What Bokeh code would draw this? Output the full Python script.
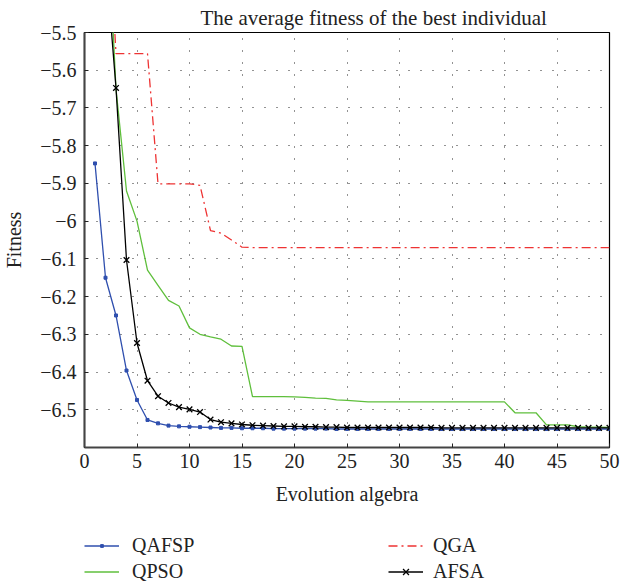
from bokeh.plotting import figure
from bokeh.models import Legend, LegendItem, FixedTicker, Range1d
from bokeh.layouts import column
from bokeh.embed import file_html
from bokeh.resources import INLINE

# ---------------- data ----------------
gen = list(range(1, 51))

qafsp = [-5.847, -6.150, -6.250, -6.396, -6.474, -6.527, -6.536, -6.542, -6.544, -6.545,
         -6.546, -6.547, -6.548, -6.548, -6.549, -6.549, -6.549, -6.550, -6.550, -6.550,
         -6.550, -6.550, -6.550, -6.551, -6.551, -6.551, -6.551, -6.551, -6.551, -6.551,
         -6.551, -6.551, -6.551, -6.551, -6.551, -6.551, -6.551, -6.551, -6.551, -6.551,
         -6.551, -6.551, -6.551, -6.551, -6.551, -6.551, -6.551, -6.551, -6.551, -6.551]

qpso = [-4.80, -5.09, -5.65, -5.92, -6.00, -6.13, -6.17, -6.21, -6.225, -6.283,
        -6.300, -6.307, -6.313, -6.331, -6.332, -6.465, -6.465, -6.465, -6.465, -6.466,
        -6.467, -6.469, -6.470, -6.474, -6.475, -6.477, -6.479, -6.479, -6.479, -6.479,
        -6.479, -6.479, -6.479, -6.479, -6.479, -6.479, -6.479, -6.479, -6.479, -6.479,
        -6.508, -6.508, -6.508, -6.540, -6.540, -6.540, -6.545, -6.546, -6.546, -6.547]

qga = [-4.70, -5.05, -5.556, -5.556, -5.556, -5.556, -5.901, -5.901, -5.901, -5.901,
       -5.905, -6.025, -6.032, -6.050, -6.069, -6.070, -6.070, -6.070, -6.070, -6.070,
       -6.070, -6.070, -6.070, -6.070, -6.070, -6.070, -6.070, -6.070, -6.070, -6.070,
       -6.070, -6.070, -6.070, -6.070, -6.070, -6.070, -6.070, -6.070, -6.070, -6.070,
       -6.070, -6.070, -6.070, -6.070, -6.070, -6.070, -6.070, -6.070, -6.070, -6.070]

afsa = [-4.90, -5.30, -5.647, -6.103, -6.323, -6.423, -6.464, -6.482, -6.493, -6.499,
        -6.506, -6.526, -6.533, -6.536, -6.539, -6.541, -6.542, -6.543, -6.544, -6.544,
        -6.545, -6.545, -6.546, -6.546, -6.547, -6.547, -6.547, -6.547, -6.547, -6.547,
        -6.547, -6.547, -6.547, -6.548, -6.548, -6.548, -6.548, -6.548, -6.548, -6.548,
        -6.548, -6.548, -6.548, -6.548, -6.548, -6.548, -6.548, -6.548, -6.548, -6.548]

x_ticks = [0, 5, 10, 15, 20, 25, 30, 35, 40, 45, 50]
y_ticks = [-6.5, -6.4, -6.3, -6.2, -6.1, -6.0, -5.9, -5.8, -5.7, -5.6, -5.5]
y_tick_labels = ["\u22126.5", "\u22126.4", "\u22126.3", "\u22126.2", "\u22126.1", "\u22126",
                 "\u22125.9", "\u22125.8", "\u22125.7", "\u22125.6", "\u22125.5"]

title_text = "The average fitness of the best individual"
x_label = "Evolution algebra"
y_label = "Fitness"
names = ["QAFSP", "QPSO", "QGA", "AFSA"]

# ---------------- styles ----------------
FONT = "Liberation Serif"
BLUE = "#2f4fae"
GREEN = "#5fbf3c"
RED = "#ee3333"
BLACK = "#000000"
QGA_DASH = "9 4 2 4"

MAIN_H = 515
LEG_H = 584 - MAIN_H

# ---------------- main figure ----------------
p = figure(width=621, height=MAIN_H, output_backend="svg", toolbar_location=None,
           x_range=Range1d(0, 50), y_range=Range1d(-6.6, -5.5),
           min_border_left=84, min_border_right=12, min_border_top=32,
           min_border_bottom=68)
p.background_fill_color = "white"
p.border_fill_color = "white"
p.outline_line_color = "black"
p.outline_line_width = 1.2

p.title.text = title_text
p.title.align = "left"
p.title.offset = 116
p.title.standoff = 5
p.title.text_font = FONT
p.title.text_font_size = "21px"
p.title.text_font_style = "normal"
p.title.text_color = "#222222"

for ax in (p.xaxis[0], p.yaxis[0]):
    ax.axis_line_color = "#444444"
    ax.axis_line_width = 2
    ax.major_tick_in = 4
    ax.major_tick_out = 0
    ax.minor_tick_in = 0
    ax.minor_tick_out = 0
    ax.major_tick_line_color = "#222222"
    ax.major_label_text_font = FONT
    ax.major_label_text_font_size = "20px"
    ax.major_label_text_color = "#222222"
    ax.axis_label_text_font = FONT
    ax.axis_label_text_font_size = "20px"
    ax.axis_label_text_font_style = "normal"
    ax.axis_label_text_color = "#222222"

p.xaxis[0].ticker = FixedTicker(ticks=x_ticks)
p.yaxis[0].ticker = FixedTicker(ticks=y_ticks)
p.yaxis[0].major_label_overrides = {t: s for t, s in zip(y_ticks, y_tick_labels)}
p.xaxis[0].axis_label = x_label
p.yaxis[0].axis_label = y_label
p.xaxis[0].major_label_standoff = 6
p.yaxis[0].major_label_standoff = 8
p.xaxis[0].axis_label_standoff = 12
p.yaxis[0].axis_label_standoff = 12

for g in (p.xgrid[0], p.ygrid[0]):
    g.grid_line_color = "black"
    g.grid_line_alpha = 0.85
    g.grid_line_dash = "1 11"
    g.grid_line_width = 1

p.line(gen, qafsp, line_color=BLUE, line_width=1.3)
p.scatter(gen, qafsp, marker="square", size=3, fill_color=BLUE, line_color=BLUE)
p.line(gen, qpso, line_color=GREEN, line_width=1.3)
p.line(gen, qga, line_color=RED, line_width=1.3, line_dash=QGA_DASH)
p.line(gen, afsa, line_color=BLACK, line_width=1.3)
p.scatter(gen, afsa, marker="x", size=8, line_color=BLACK, line_width=1.3)

# ---------------- legend strip ----------------
# The strip plots the same series, but its ranges (0..1) keep them out of view;
# only the legend swatches are visible.
q = figure(width=621, height=LEG_H, output_backend="svg", toolbar_location=None,
           x_range=Range1d(0, 1), y_range=Range1d(0, 1),
           min_border_left=0, min_border_right=0, min_border_top=0, min_border_bottom=0,
           x_axis_type=None, y_axis_type=None)
q.outline_line_color = None
q.background_fill_color = "white"
q.border_fill_color = "white"
q.xgrid.visible = False
q.ygrid.visible = False

l_qafsp = q.line(gen, qafsp, line_color=BLUE, line_width=1.3)
m_qafsp = q.scatter(gen, qafsp, marker="square", fill_color=BLUE, line_color=BLUE)
l_qpso = q.line(gen, qpso, line_color=GREEN, line_width=1.3)
l_qga = q.line(gen, qga, line_color=RED, line_width=1.3, line_dash=QGA_DASH)
l_afsa = q.line(gen, afsa, line_color=BLACK, line_width=1.3)
m_afsa = q.scatter(gen, afsa, marker="x", line_color=BLACK, line_width=1.3)


def make_legend(items, glyph_h, loc, standoff):
    lg = Legend(items=items, location=loc, orientation="vertical")
    lg.background_fill_alpha = 0
    lg.border_line_alpha = 0
    lg.padding = 0
    lg.margin = 0
    lg.spacing = 3
    lg.glyph_width = 35
    lg.glyph_height = glyph_h
    lg.label_height = 21
    lg.label_standoff = standoff
    lg.label_text_font = FONT
    lg.label_text_font_size = "20px"
    lg.label_text_color = "#222222"
    lg.label_text_baseline = "middle"
    return lg


leg1 = make_legend([LegendItem(label=names[0], renderers=[l_qafsp, m_qafsp]),
                    LegendItem(label=names[1], renderers=[l_qpso])], 7, (0, 1), 13)
leg2 = make_legend([LegendItem(label=names[2], renderers=[l_qga]),
                    LegendItem(label=names[3], renderers=[l_afsa, m_afsa])], 21, (304, 1), 10)
q.add_layout(leg1, "center")
q.add_layout(leg2, "center")

layout = column(p, q, spacing=0)
open("out.html", "w").write(file_html(layout, INLINE))
